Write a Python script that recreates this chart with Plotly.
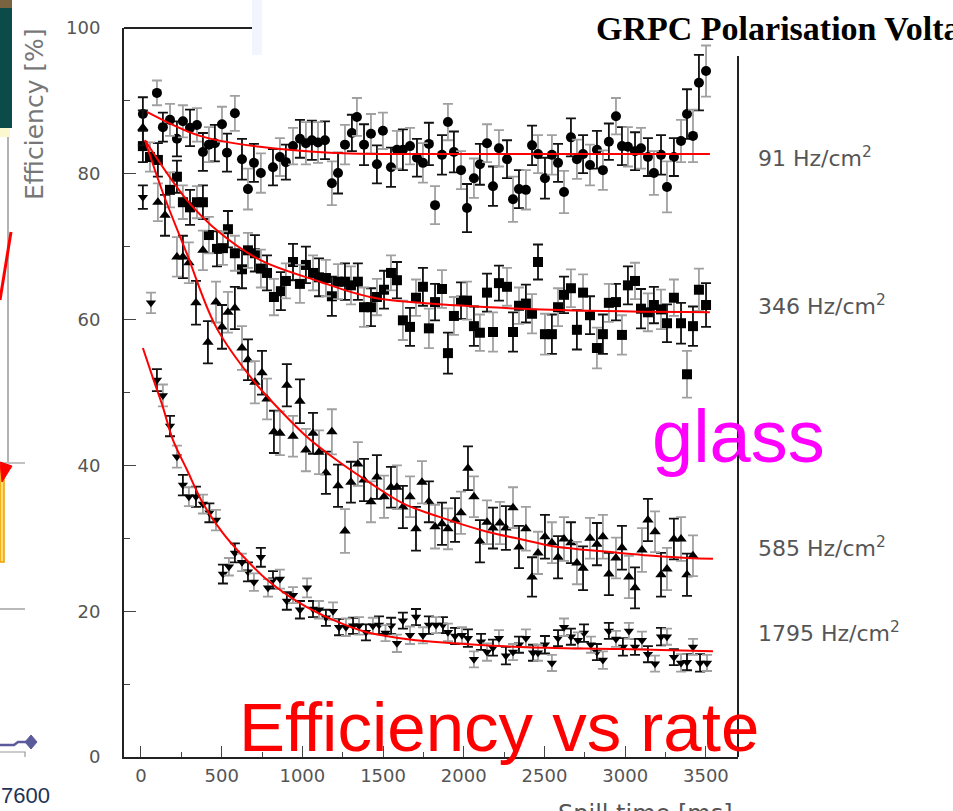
import plotly.graph_objects as go

# ---------------- data ----------------
# 91 Hz/cm2 (circles)
x1 = [12, 99, 136, 180, 223, 260, 304, 347, 384, 421,
      458, 502, 533, 582, 626, 663, 700, 743, 818, 861,
      898, 942, 985, 1022, 1059, 1097, 1140, 1183, 1221, 1264,
      1307, 1338, 1382, 1425, 1462, 1499, 1549, 1586, 1623, 1667,
      1710, 1747, 1784, 1822, 1865, 1902, 1939, 1983, 2020, 2063,
      2100, 2144, 2181, 2218, 2268, 2305, 2342, 2385, 2423, 2460,
      2503, 2546, 2584, 2621, 2664, 2701, 2739, 2782, 2825, 2862,
      2899, 2943, 2980, 3017, 3061, 3098, 3141, 3178, 3222, 3259,
      3302, 3346, 3383, 3420, 3457, 3501]
y1 = [88.2, 91.1, 86.4, 87.4, 84.8, 87.2, 86.3, 86.7, 83.0, 84.0,
      84.2, 86.8, 82.9, 88.3, 82.0, 77.9, 81.5, 80.1, 80.9, 82.3,
      81.6, 83.8, 84.8, 84.2, 84.6, 84.3, 84.6, 78.7, 80.1, 84.0,
      85.6, 87.8, 84.0, 85.5, 81.3, 85.9, 80.9, 83.3, 83.3, 83.8,
      82.2, 81.5, 84.1, 75.7, 82.6, 87.1, 83.0, 80.5, 75.3, 79.4,
      81.3, 84.2, 78.3, 83.5, 82.0, 76.5, 77.9, 77.8, 83.9, 82.7,
      79.4, 82.6, 81.5, 77.5, 85.0, 82.0, 82.7, 81.2, 83.3, 80.5,
      84.4, 87.9, 83.8, 83.7, 83.1, 83.5, 82.3, 80.1, 82.6, 78.2,
      82.3, 84.5, 88.2, 85.2, 92.5, 94.1]
e1 = [2.3, 1.7, 2.0, 2.2, 2.4, 2.2, 2.5, 2.3, 2.6, 2.4,
      2.5, 2.4, 2.6, 2.4, 2.8, 2.8, 2.6, 2.7, 2.5, 2.6,
      2.4, 2.5, 2.6, 2.9, 2.7, 2.8, 2.6, 3.0, 2.8, 2.7,
      2.5, 2.6, 2.8, 2.7, 2.6, 2.5, 2.7, 2.6, 2.8, 2.5,
      2.6, 2.7, 2.9, 2.6, 2.7, 2.5, 2.8, 2.6, 3.3, 2.7,
      2.8, 2.6, 2.7, 2.5, 2.6, 3.1, 2.6, 2.7, 2.7, 2.6,
      2.8, 2.7, 2.6, 2.9, 2.6, 2.7, 2.6, 2.8, 2.6, 2.7,
      2.5, 2.5, 2.6, 2.7, 2.6, 2.8, 2.6, 3.0, 2.7, 3.5,
      2.6, 2.9, 3.4, 3.6, 3.8, 3.5]

# 346 Hz/cm2 (squares)
x2 = [12, 56, 105, 180, 223, 260, 304, 347, 384, 421,
      471, 508, 539, 582, 626, 663, 706, 743, 781, 824,
      867, 898, 942, 985, 1022, 1066, 1103, 1146, 1183, 1221,
      1264, 1301, 1344, 1382, 1425, 1462, 1506, 1549, 1586, 1623,
      1667, 1704, 1747, 1784, 1822, 1865, 1902, 1939, 1983, 2020,
      2063, 2100, 2144, 2181, 2218, 2268, 2305, 2342, 2385, 2423,
      2460, 2503, 2546, 2584, 2621, 2664, 2701, 2739, 2782, 2825,
      2862, 2899, 2943, 2980, 3017, 3061, 3098, 3141, 3178, 3222,
      3259, 3302, 3346, 3383, 3420, 3457, 3501]
y2 = [83.8, 82.3, 81.9, 77.8, 79.6, 76.1, 75.4, 76.1, 76.1, 71.6,
      69.7, 69.8, 72.4, 69.1, 66.9, 69.5, 69.1, 67.0, 66.4, 63.1,
      63.9, 65.3, 67.9, 64.9, 67.5, 66.4, 65.8, 65.7, 63.2, 65.2,
      65.2, 64.7, 65.2, 61.7, 61.7, 63.1, 64.1, 66.4, 65.4, 59.9,
      59.0, 63.0, 64.5, 58.8, 62.4, 64.2, 55.4, 60.5, 62.6, 62.6,
      59.1, 58.2, 63.7, 58.3, 65.0, 64.5, 58.3, 61.9, 62.2, 60.8,
      67.9, 58.0, 58.0, 61.7, 63.4, 64.3, 58.6, 63.7, 60.6, 56.1,
      58.0, 62.3, 62.4, 57.9, 64.7, 65.3, 61.5, 61.0, 62.0, 61.4,
      59.5, 63.0, 59.5, 52.5, 59.1, 64.1, 62.0]
e2 = [2.2, 2.0, 2.3, 2.4, 2.2, 2.3, 2.4, 2.2, 2.3, 2.5,
      2.4, 2.3, 2.5, 2.4, 2.6, 2.4, 2.5, 2.6, 2.4, 2.5,
      2.6, 2.4, 2.5, 2.6, 2.5, 2.4, 2.6, 2.5, 2.7, 2.4,
      2.5, 2.6, 2.5, 2.7, 2.6, 2.5, 2.6, 2.4, 2.5, 2.7,
      2.6, 2.5, 2.6, 2.7, 2.5, 2.6, 2.8, 2.6, 2.5, 2.6,
      2.7, 2.5, 2.6, 2.7, 2.4, 2.6, 2.7, 2.5, 2.6, 2.7,
      2.4, 2.8, 2.7, 2.6, 2.5, 2.6, 2.7, 2.5, 2.6, 2.8,
      2.7, 2.6, 2.5, 2.7, 2.6, 2.5, 2.7, 2.6, 2.5, 2.7,
      2.6, 2.5, 2.8, 3.2, 2.7, 2.9, 3.0]

# 585 Hz/cm2 (triangles up)
x3 = [12, 105, 149, 223, 260, 297, 341, 384, 415, 465,
      502, 539, 582, 626, 663, 706, 750, 781, 824, 861,
      904, 942, 985, 1022, 1066, 1103, 1146, 1183, 1221, 1264,
      1301, 1344, 1382, 1425, 1462, 1506, 1549, 1586, 1623, 1667,
      1704, 1741, 1784, 1822, 1865, 1902, 1946, 1983, 2026, 2063,
      2100, 2144, 2181, 2224, 2261, 2305, 2342, 2385, 2423, 2460,
      2503, 2546, 2584, 2621, 2664, 2701, 2739, 2782, 2825, 2862,
      2899, 2943, 2980, 3023, 3061, 3104, 3141, 3185, 3222, 3259,
      3302, 3346, 3383, 3420]
y3 = [86.3, 76.1, 74.3, 68.6, 68.6, 67.8, 62.3, 69.5, 56.9, 62.4,
      59.0, 61.0, 61.6, 56.1, 54.5, 51.4, 52.7, 49.1, 44.6, 44.4,
      51.0, 44.0, 48.8, 42.1, 44.4, 41.8, 39.0, 44.6, 37.2, 31.0,
      37.7, 40.2, 38.0, 35.0, 38.4, 35.7, 37.0, 37.0, 34.3, 35.7,
      31.3, 37.7, 35.0, 31.6, 32.0, 31.3, 32.5, 33.5, 39.6, 35.7,
      29.6, 32.2, 31.4, 32.1, 31.4, 34.2, 28.8, 31.3, 24.7, 28.0,
      30.2, 29.4, 27.4, 29.9, 29.4, 26.6, 25.9, 30.0, 29.2, 30.2,
      25.1, 27.3, 28.7, 24.7, 23.2, 28.4, 32.5, 30.9, 25.0, 25.8,
      29.9, 29.9, 25.0, 27.6]
e3 = [2.4, 2.6, 2.8, 2.7, 2.9, 2.8, 3.0, 2.7, 2.9, 2.8,
      3.0, 2.8, 2.9, 3.0, 2.8, 2.9, 3.0, 2.8, 2.9, 3.0,
      2.9, 2.8, 3.0, 2.9, 2.8, 3.0, 2.9, 3.1, 2.9, 3.0,
      2.8, 3.0, 2.9, 2.8, 3.0, 2.9, 2.8, 3.0, 2.9, 2.8,
      3.0, 2.9, 2.8, 3.0, 2.9, 2.8, 3.0, 2.9, 3.0, 2.8,
      2.9, 3.0, 2.8, 2.9, 3.0, 2.8, 2.9, 3.0, 2.7, 2.9,
      3.0, 2.8, 2.9, 3.0, 2.8, 2.9, 3.0, 2.8, 2.9, 3.0,
      2.9, 2.8, 3.0, 2.9, 2.8, 3.0, 2.9, 2.8, 3.0, 2.9,
      2.8, 3.0, 2.9, 2.8]

# 1795 Hz/cm2 (triangles down)
x4 = [12, 62, 99, 136, 180, 223, 260, 297, 341, 384,
      424, 465, 508, 545, 582, 626, 663, 700, 743, 787,
      818, 861, 904, 942, 985, 1029, 1066, 1103, 1146, 1190,
      1227, 1270, 1314, 1351, 1394, 1437, 1475, 1515, 1550, 1586,
      1623, 1667, 1704, 1747, 1784, 1828, 1871, 1902, 1946, 1989,
      2026, 2063, 2107, 2144, 2181, 2218, 2261, 2305, 2342, 2385,
      2429, 2460, 2503, 2546, 2584, 2621, 2664, 2707, 2745, 2788,
      2825, 2862, 2899, 2943, 2986, 3023, 3061, 3104, 3141, 3185,
      3222, 3259, 3302, 3346, 3383, 3420, 3464, 3507]
y4 = [76.8, 62.3, 51.7, 49.6, 45.4, 41.2, 37.3, 35.7, 35.7, 34.7,
      33.5, 32.5, 25.1, 26.1, 28.0, 26.7, 25.4, 24.0, 27.4, 23.2,
      24.3, 24.4, 21.4, 22.2, 20.2, 23.2, 20.3, 20.2, 19.1, 20.0,
      17.8, 17.8, 18.0, 18.0, 17.1, 18.0, 18.1, 17.0, 18.0, 15.6,
      18.7, 16.7, 19.2, 16.7, 18.1, 18.1, 18.1, 17.1, 16.6, 16.7,
      16.3, 13.4, 15.8, 14.4, 15.0, 16.3, 13.9, 14.4, 15.4, 16.3,
      14.3, 14.3, 15.4, 12.9, 16.3, 17.8, 16.5, 16.0, 17.0, 15.4,
      14.4, 13.3, 17.3, 16.2, 15.1, 17.3, 15.1, 16.0, 14.1, 12.8,
      16.5, 16.5, 13.7, 12.9, 13.0, 15.1, 12.9, 12.9]
e4 = [1.6, 1.4, 1.5, 1.5, 1.4, 1.5, 1.4, 1.3, 1.4, 1.3,
      1.3, 1.4, 1.3, 1.2, 1.3, 1.2, 1.3, 1.2, 1.3, 1.2,
      1.2, 1.3, 1.2, 1.1, 1.2, 1.3, 1.1, 1.2, 1.1, 1.2,
      1.1, 1.2, 1.1, 1.2, 1.1, 1.1, 1.2, 1.1, 1.1, 1.2,
      1.1, 1.2, 1.1, 1.1, 1.2, 1.1, 1.1, 1.2, 1.1, 1.1,
      1.2, 1.1, 1.1, 1.2, 1.1, 1.1, 1.2, 1.1, 1.1, 1.2,
      1.1, 1.1, 1.2, 1.1, 1.1, 1.2, 1.1, 1.1, 1.2, 1.1,
      1.1, 1.2, 1.1, 1.1, 1.2, 1.1, 1.1, 1.2, 1.1, 1.1,
      1.2, 1.1, 1.1, 1.2, 1.1, 1.1, 1.2, 1.1]

# fitted curves
fx1 = [37, 366, 737, 1171, 1729, 2500, 3525]
fy1 = [88.5, 85.2, 83.7, 82.9, 82.7, 82.7, 82.7]
fx2 = [25, 285, 489, 737, 1109, 1419, 1729, 2596, 3525]
fy2 = [84.6, 76.4, 71.9, 68.2, 65.2, 63.1, 62.3, 61.3, 61.0]
fx3 = [25, 136, 285, 465, 694, 861, 1029, 1214, 1419, 1623, 1853, 2144,
       2348, 2553, 2763, 2968, 3172, 3383, 3544]
fy3 = [84.6, 77.4, 69.0, 59.0, 51.7, 47.6, 43.9, 40.7, 37.6, 34.8, 32.9, 30.9,
       29.9, 28.9, 28.4, 28.0, 27.6, 27.3, 27.2]
fx4 = [12, 74, 136, 198, 285, 384, 508, 613, 781, 985, 1190, 1400, 1605,
       1809, 2348, 2968, 3544]
fy4 = [56.1, 52.0, 48.0, 43.5, 39.4, 34.8, 30.7, 28.0, 24.3, 21.1, 18.8, 17.1,
       16.3, 15.8, 15.1, 14.8, 14.5]

rate_labels = ["91 Hz/cm<sup>2</sup>", "346 Hz/cm<sup>2</sup>",
               "585 Hz/cm<sup>2</sup>", "1795 Hz/cm<sup>2</sup>"]
x_ticks = [0, 500, 1000, 1500, 2000, 2500, 3000, 3500]
y_ticks = [0, 20, 40, 60, 80, 100]

# ---------------- figure ----------------
W, H = 953, 811


def px(x):
    return x / W


def py(y):
    return 1 - y / H


fig = go.Figure()

series = [
    (x1, y1, e1, "circle", 10),
    (x2, y2, e2, "square", 10),
    (x3, y3, e3, "triangle-up", 10),
    (x4, y4, e4, "triangle-down", 9),
]
for xs, ys, es, sym, sz in series:
    for start, col in ((0, "#111111"), (1, "#a0a0a0")):
        fig.add_trace(go.Scatter(
            x=xs[start::2], y=ys[start::2], mode="markers",
            marker=dict(symbol=sym, size=sz, color="black"),
            error_y=dict(type="data", array=es[start::2], visible=True,
                         color=col, thickness=1.8, width=5),
            showlegend=False, hoverinfo="skip"))

for fx, fy in ((fx1, fy1), (fx2, fy2), (fx3, fy3), (fx4, fy4)):
    fig.add_trace(go.Scatter(
        x=fx, y=fy, mode="lines", line=dict(color="#ff0000", width=2, shape="spline"),
        showlegend=False, hoverinfo="skip"))

tickfont = dict(family="DejaVu Sans", size=18, color="#555555")
fig.update_layout(
    width=W, height=H, margin=dict(l=0, r=0, t=0, b=0, autoexpand=False),
    paper_bgcolor="white", plot_bgcolor="white", showlegend=False,
    xaxis=dict(domain=[124 / W, 738 / W], range=[-105, 3699], automargin=False,
               showline=True, linecolor="#222222", linewidth=2,
               ticks="inside", ticklen=11, tickwidth=1.2, tickcolor="#444444",
               tickvals=x_ticks, ticktext=[str(v) for v in x_ticks],
               minor=dict(ticks="inside", dtick=250, ticklen=5, tickcolor="#444444"),
               showgrid=False, zeroline=False, tickfont=tickfont,
               ticklabelstandoff=1),
    yaxis=dict(domain=[54 / H, 783 / H], range=[0, 100], automargin=False,
               showline=True, linecolor="#222222", linewidth=2,
               ticks="inside", ticklen=12, tickwidth=1.2, tickcolor="#444444",
               tickvals=y_ticks, ticktext=[str(v) for v in y_ticks],
               minor=dict(ticks="inside", dtick=10, ticklen=6, tickcolor="#444444"),
               showgrid=False, zeroline=False, tickfont=tickfont,
               ticklabelstandoff=18),
)

shapes = [
    # partial frame (top-left and right)
    dict(type="line", xref="paper", yref="paper", x0=px(124), x1=px(252), y0=py(28), y1=py(28),
         line=dict(color="#222222", width=2)),
    dict(type="line", xref="paper", yref="paper", x0=px(738), x1=px(738), y0=py(56), y1=py(757),
         line=dict(color="#222222", width=2)),
    # light panel strip at top
    dict(type="rect", xref="paper", yref="paper", x0=px(252), x1=px(262), y0=py(55), y1=py(0),
         fillcolor="#f2f5fd", line=dict(width=0)),
    # left slide fragments
    dict(type="rect", xref="paper", yref="paper", x0=0, x1=px(12), y0=py(8), y1=py(0),
         fillcolor="#7a6440", line=dict(width=0)),
    dict(type="rect", xref="paper", yref="paper", x0=0, x1=px(12), y0=py(128), y1=py(8),
         fillcolor="#0b4b4a", line=dict(width=0)),
    dict(type="rect", xref="paper", yref="paper", x0=0, x1=px(10), y0=py(137), y1=py(128),
         fillcolor="#fbf8cf", line=dict(width=0)),
    dict(type="line", xref="paper", yref="paper", x0=px(8), x1=px(8), y0=py(137), y1=py(462),
         line=dict(color="#9a9a9a", width=1.5)),
    dict(type="line", xref="paper", yref="paper", x0=px(11), x1=px(0), y0=py(232), y1=py(300),
         line=dict(color="#ff0000", width=3)),
    dict(type="line", xref="paper", yref="paper", x0=0, x1=px(25), y0=py(463), y1=py(463),
         line=dict(color="#9a9a9a", width=1.2)),
    dict(type="rect", xref="paper", yref="paper", x0=0, x1=px(4), y0=py(562), y1=py(470),
         fillcolor="#ffe070", line=dict(color="#f0a000", width=1.5)),
    dict(type="path", xref="paper", yref="paper",
         path=f"M {px(0)},{py(462)} L {px(12)},{py(466)} L {px(2)},{py(482)} Z",
         fillcolor="#ff0000", line=dict(color="#ff0000", width=1)),
    dict(type="line", xref="paper", yref="paper", x0=0, x1=px(25), y0=py(609), y1=py(609),
         line=dict(color="#8a8a8a", width=1.2)),
    dict(type="path", xref="paper", yref="paper",
         path=f"M {px(0)},{py(745)} L {px(14)},{py(745)} L {px(18)},{py(742)} L {px(27)},{py(742)}",
         line=dict(color="#5b5b9b", width=2.5)),
    dict(type="path", xref="paper", yref="paper",
         path=f"M {px(25)},{py(742)} L {px(31)},{py(735)} L {px(37)},{py(742)} L {px(31)},{py(749)} Z",
         fillcolor="#5b5b9b", line=dict(color="#5b5b9b", width=1)),
    dict(type="path", xref="paper", yref="paper",
         path=f"M {px(0)},{py(752)} L {px(25)},{py(752)} L {px(25)},{py(757)}",
         line=dict(color="#9a9a9a", width=1.2)),
]
fig.update_layout(shapes=shapes)

ann = []
for lab, yy in zip(rate_labels, (157, 305, 547, 632)):
    ann.append(dict(text=lab, x=px(756), y=py(yy), xref="paper", yref="paper",
                    xanchor="left", yanchor="middle", showarrow=False,
                    font=dict(family="DejaVu Sans", size=22, color="#555555")))
ann += [
    dict(text="Efficiency [%]", x=px(34), y=py(114), xref="paper", yref="paper",
         textangle=-90, xanchor="center", yanchor="middle", showarrow=False,
         font=dict(family="DejaVu Sans", size=25, color="#777777")),
    dict(text="Spill time [ms]", x=px(645), y=py(814), xref="paper", yref="paper",
         xanchor="center", yanchor="middle", showarrow=False,
         font=dict(family="DejaVu Sans", size=24, color="#555555")),
    dict(text="<b>GRPC Polarisation Voltage</b>", x=px(594), y=py(28), xref="paper", yref="paper",
         xanchor="left", yanchor="middle", showarrow=False,
         font=dict(family="Liberation Serif", size=34, color="black")),
    dict(text="glass", x=px(650), y=py(436), xref="paper", yref="paper",
         xanchor="left", yanchor="middle", showarrow=False,
         font=dict(family="Liberation Sans", size=74, color="#ff00ff")),
    dict(text="Efficiency vs rate", x=px(499), y=py(727), xref="paper", yref="paper",
         xanchor="center", yanchor="middle", showarrow=False,
         font=dict(family="Liberation Sans", size=69, color="#ff0000")),
    dict(text="7600", x=px(52), y=py(795), xref="paper", yref="paper",
         xanchor="right", yanchor="middle", showarrow=False,
         font=dict(family="Liberation Sans", size=22, color="#223355")),
]
fig.update_layout(annotations=ann)

fig.write_html("out.html")
